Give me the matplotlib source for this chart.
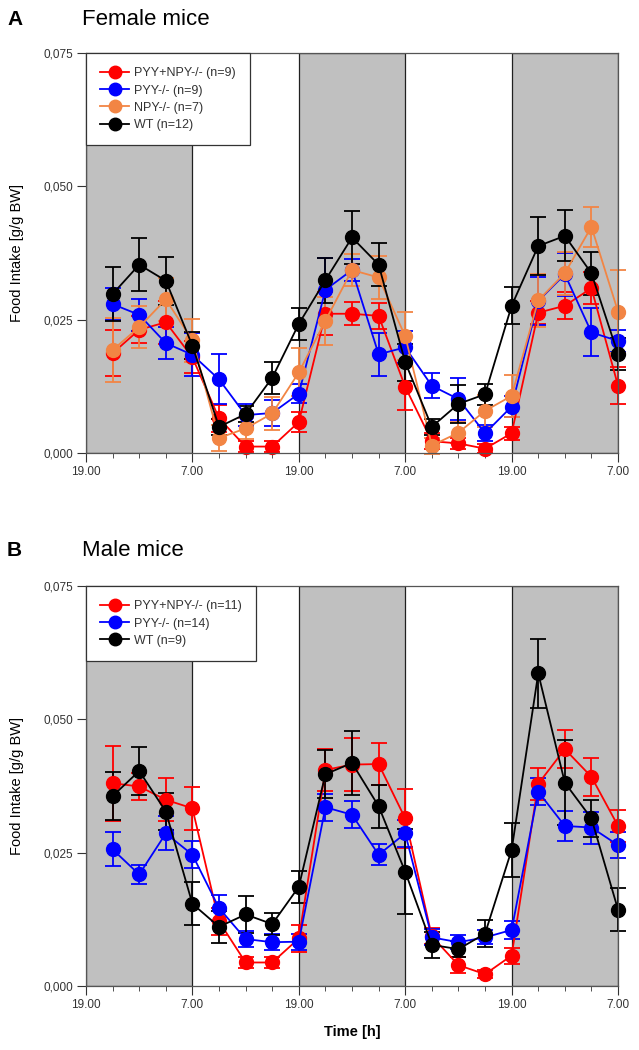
import numpy as np
import matplotlib
matplotlib.use("Agg")
import matplotlib.pyplot as plt
from matplotlib.lines import Line2D
from matplotlib.ticker import FuncFormatter, MultipleLocator

plt.rcParams['font.family'] = ['Liberation Sans', 'DejaVu Sans']

# time points (h) every 3 h, starting 3 h after the first 19.00
hours = np.arange(3, 61, 3)
tick_pos = [0, 12, 24, 36, 48, 60]
tick_labels = ['19.00', '7.00', '19.00', '7.00', '19.00', '7.00']
dark_phases = [(0, 12), (24, 36), (48, 60)]

# Panel A - female mice
fem_red = [0.0187, 0.0231, 0.0245, 0.0179, 0.0065, 0.0012, 0.0012, 0.0058, 0.0261, 0.0261,
           0.0257, 0.0124, 0.0022, 0.0018, 0.0008, 0.0037, 0.0263, 0.0276, 0.0309, 0.0126]
fem_red_err = [0.0043, 0.0025, 0.0040, 0.0030, 0.0025, 0.0010, 0.0010, 0.0018, 0.0040, 0.0022,
               0.0025, 0.0043, 0.0015, 0.0010, 0.0008, 0.0012, 0.0022, 0.0025, 0.0030, 0.0035]
fem_blue = [0.0279, 0.0259, 0.0206, 0.0184, 0.0138, 0.0071, 0.0075, 0.0111, 0.0306, 0.0343,
            0.0185, 0.0198, 0.0126, 0.0101, 0.0037, 0.0087, 0.0285, 0.0335, 0.0226, 0.0210]
fem_blue_err = [0.0030, 0.0030, 0.0030, 0.0040, 0.0047, 0.0020, 0.0025, 0.0018, 0.0060, 0.0020,
                0.0040, 0.0030, 0.0023, 0.0040, 0.0015, 0.0020, 0.0045, 0.0040, 0.0045, 0.0020]
fem_orange = [0.0193, 0.0236, 0.0288, 0.0211, 0.0028, 0.0046, 0.0074, 0.0151, 0.0248, 0.0343,
              0.0329, 0.0219, 0.0014, 0.0038, 0.0079, 0.0107, 0.0286, 0.0337, 0.0424, 0.0265]
fem_orange_err = [0.0060, 0.0040, 0.0040, 0.0040, 0.0025, 0.0020, 0.0030, 0.0045, 0.0045, 0.0030,
                  0.0040, 0.0045, 0.0015, 0.0020, 0.0030, 0.0040, 0.0050, 0.0040, 0.0038, 0.0078]
fem_black = [0.0298, 0.0353, 0.0323, 0.0201, 0.0049, 0.0073, 0.0141, 0.0242, 0.0324, 0.0404,
             0.0353, 0.0170, 0.0049, 0.0092, 0.0110, 0.0276, 0.0388, 0.0407, 0.0337, 0.0185]
fem_black_err = [0.0050, 0.0050, 0.0045, 0.0025, 0.0015, 0.0015, 0.0030, 0.0030, 0.0042, 0.0049,
                 0.0040, 0.0035, 0.0015, 0.0035, 0.0020, 0.0035, 0.0055, 0.0048, 0.0040, 0.0030]

# Panel B - male mice
male_red = [0.0380, 0.0374, 0.0349, 0.0333, 0.0121, 0.0044, 0.0044, 0.0089, 0.0405, 0.0415,
            0.0416, 0.0314, 0.0093, 0.0039, 0.0022, 0.0057, 0.0379, 0.0444, 0.0392, 0.0300]
male_red_err = [0.0070, 0.0025, 0.0040, 0.0040, 0.0025, 0.0010, 0.0010, 0.0025, 0.0040, 0.0050,
                0.0040, 0.0055, 0.0015, 0.0015, 0.0008, 0.0015, 0.0030, 0.0036, 0.0035, 0.0030]
male_blue = [0.0256, 0.0209, 0.0286, 0.0246, 0.0146, 0.0088, 0.0082, 0.0083, 0.0335, 0.0321,
             0.0246, 0.0286, 0.0091, 0.0082, 0.0091, 0.0105, 0.0364, 0.0300, 0.0297, 0.0264]
male_blue_err = [0.0032, 0.0017, 0.0032, 0.0025, 0.0025, 0.0015, 0.0015, 0.0015, 0.0025, 0.0025,
                 0.0020, 0.0025, 0.0015, 0.0013, 0.0013, 0.0017, 0.0025, 0.0028, 0.0030, 0.0025]
male_black = [0.0356, 0.0403, 0.0327, 0.0154, 0.0111, 0.0134, 0.0116, 0.0186, 0.0397, 0.0418,
              0.0337, 0.0214, 0.0077, 0.0069, 0.0098, 0.0255, 0.0586, 0.0381, 0.0314, 0.0143]
male_black_err = [0.0045, 0.0045, 0.0035, 0.0040, 0.0030, 0.0035, 0.0020, 0.0030, 0.0045, 0.0060,
                  0.0040, 0.0080, 0.0025, 0.0015, 0.0025, 0.0050, 0.0064, 0.0080, 0.0035, 0.0040]

RED = '#ff0000'
BLUE = '#0000ff'
ORANGE = '#f28544'
BLACK = '#000000'

female_series = [
    ('PYY+NPY-/- (n=9)', fem_red, fem_red_err, RED),
    ('PYY-/- (n=9)', fem_blue, fem_blue_err, BLUE),
    ('NPY-/- (n=7)', fem_orange, fem_orange_err, ORANGE),
    ('WT (n=12)', fem_black, fem_black_err, BLACK),
]
male_series = [
    ('PYY+NPY-/- (n=11)', male_red, male_red_err, RED),
    ('PYY-/- (n=14)', male_blue, male_blue_err, BLUE),
    ('WT (n=9)', male_black, male_black_err, BLACK),
]


def comma_fmt(v, pos):
    return ('%.3f' % v).replace('.', ',')


def draw_panel(ax, series, show_xlabel):
    # grey = dark phase
    for start, end in dark_phases:
        ax.axvspan(start, end, facecolor='#c0c0c0', edgecolor='#202020', linewidth=0.9, zorder=0)
    handles = []
    for label, vals, errs, col in series:
        ax.errorbar(hours, vals, yerr=errs, color=col, marker='o', markersize=10,
                    linewidth=1.3, elinewidth=1.3, capsize=6, capthick=1.3, clip_on=False)
        handles.append(Line2D([], [], color=col, marker='o', markersize=9, linewidth=1.3))
    ax.set_xlim(0, 60)
    ax.set_ylim(0, 0.075)
    ax.set_xticks(tick_pos)
    ax.set_xticklabels(tick_labels)
    ax.xaxis.set_minor_locator(MultipleLocator(3))
    ax.set_yticks([0, 0.025, 0.05, 0.075])
    ax.yaxis.set_major_formatter(FuncFormatter(comma_fmt))
    ax.tick_params(axis='both', which='both', direction='out', labelsize=8.5,
                   labelcolor='#333333', color='#333333', pad=3)
    ax.tick_params(axis='both', which='major', length=6.5)
    ax.tick_params(axis='x', which='minor', length=3.5)
    for s in ax.spines.values():
        s.set_color('#555555')
        s.set_linewidth(0.9)
    ax.set_ylabel('Food Intake [g/g BW]', fontsize=10.5, labelpad=14)
    if show_xlabel:
        ax.set_xlabel('Time [h]', fontsize=10.5, fontweight='bold', labelpad=10)
    leg = ax.legend(handles, [s[0] for s in series], loc='upper left', fontsize=9,
                    frameon=True, fancybox=False, framealpha=1, borderaxespad=0,
                    handlelength=2.3, labelspacing=0.42, borderpad=1.15, handletextpad=0.4)
    leg.get_frame().set_edgecolor('#333333')
    leg.get_frame().set_linewidth(0.9)
    for txt in leg.get_texts():
        txt.set_color('#333333')


fig = plt.figure(figsize=(6.39, 10.5), dpi=100)
axA = fig.add_axes([0.1346, 0.5686, 0.8326, 0.381])
axB = fig.add_axes([0.1346, 0.061, 0.8326, 0.381])

draw_panel(axA, female_series, False)
draw_panel(axB, male_series, True)

fig.text(0.011, 0.981, 'A', fontsize=15, fontweight='bold', va='center')
fig.text(0.128, 0.981, 'Female mice', fontsize=16, va='center')
fig.text(0.011, 0.476, 'B', fontsize=15, fontweight='bold', va='center')
fig.text(0.128, 0.476, 'Male mice', fontsize=16, va='center')

fig.savefig('out.png', dpi=100)
